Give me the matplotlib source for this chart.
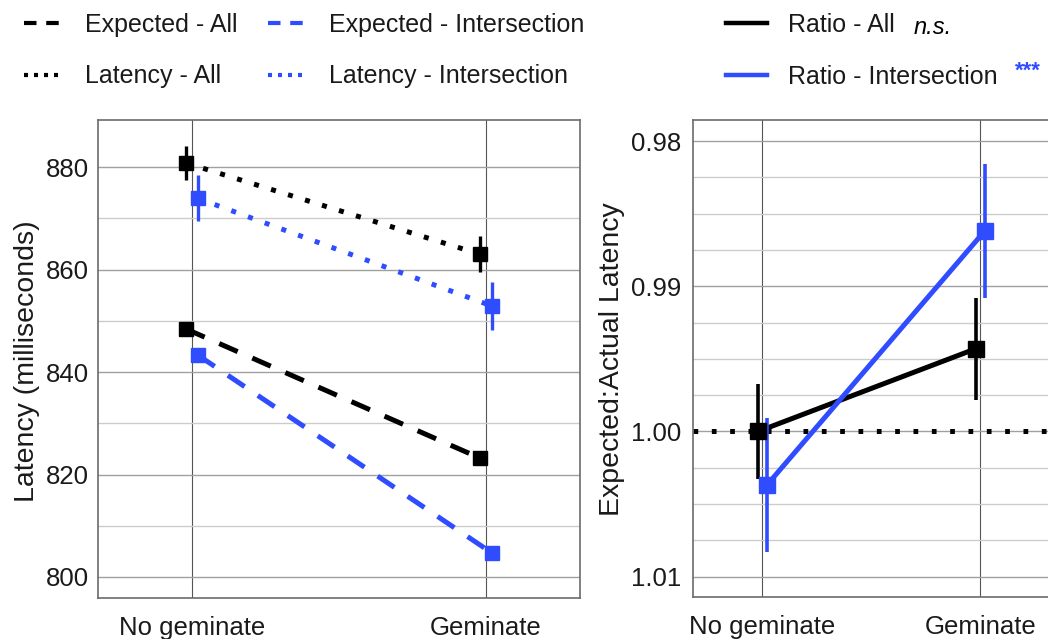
import matplotlib
matplotlib.use("Agg")
import matplotlib.pyplot as plt
from matplotlib.lines import Line2D
from matplotlib.ticker import MultipleLocator, FormatStrFormatter

plt.rcParams["font.family"] = ["Liberation Sans", "DejaVu Sans"]
plt.rcParams["lines.scale_dashes"] = False

# ---- data -------------------------------------------------------------
conditions = ["No geminate", "Geminate"]

latency_all = [880.8, 863.0]
latency_all_err = [3.3, 3.5]
latency_inter = [873.9, 852.9]
latency_inter_err = [4.5, 4.6]

expected_all = [848.4, 823.2]
expected_all_err = [0.4, 0.4]
expected_inter = [843.3, 804.7]
expected_inter_err = [1.2, 0.5]

ratio_all = [1.0000, 0.9943]
ratio_all_err = [0.0033, 0.0035]
ratio_inter = [1.0037, 0.9862]
ratio_inter_err = [0.0046, 0.0046]

ratio_reference = 1.0

latency_ticks = [800, 820, 840, 860, 880]
ratio_ticks = [0.98, 0.99, 1.00, 1.01]

# ---- style ------------------------------------------------------------
BLACK = "#000000"
BLUE = "#2F4CFF"
TEXT = "#1a1a1a"
DODGE = 0.02

DOT_LEFT = (0, (3.6, 9.2))
DASH_LEFT = (0, (14.5, 11.5))
DOT_RIGHT = (0, (3.4, 9.8))

W, H = 1048, 639
fig = plt.figure(figsize=(W / 100, H / 100), dpi=100)


def px_axes(x0, y0, x1, y1):
    """Axes placed by pixel box (top-left origin)."""
    return fig.add_axes([x0 / W, 1 - y1 / H, (x1 - x0) / W, (y1 - y0) / H])


def style_axes(ax):
    for s in ax.spines.values():
        s.set_color("#6b6b6b")
        s.set_linewidth(1.2)
    ax.set_axisbelow(True)
    ax.grid(which="major", axis="y", color="#a0a0a0", lw=1.0)
    ax.grid(which="minor", axis="y", color="#cccccc", lw=1.0)
    ax.grid(which="major", axis="x", color="#555555", lw=0.8)
    ax.tick_params(which="both", length=0, colors=TEXT)
    ax.tick_params(axis="x", labelsize=18.5, pad=13)
    ax.set_xlim(-0.32, 1.32)
    ax.set_xticks(range(len(conditions)))
    ax.set_xticklabels(conditions)


x = list(range(len(conditions)))
x_black = [v - DODGE for v in x]
x_blue = [v + DODGE for v in x]

# ---- left: latencies --------------------------------------------------
ax1 = px_axes(98, 120, 580, 598)
style_axes(ax1)
ax1.set_ylim(795.9, 889.2)
ax1.set_yticks(latency_ticks)
ax1.yaxis.set_minor_locator(MultipleLocator(10))
ax1.tick_params(axis="y", labelsize=18.5, pad=6.5)

series_left = [
    (x_black, latency_all, latency_all_err, BLACK, DOT_LEFT),
    (x_black, expected_all, expected_all_err, BLACK, DASH_LEFT),
    (x_blue, latency_inter, latency_inter_err, BLUE, DOT_LEFT),
    (x_blue, expected_inter, expected_inter_err, BLUE, DASH_LEFT),
]
for xs, ys, es, col, ls in series_left:
    ax1.plot(xs, ys, color=col, lw=3.6, linestyle=ls,
             solid_capstyle="butt", dash_capstyle="butt", zorder=3)
    ax1.errorbar(xs, ys, yerr=es, fmt="s", color=col, ms=10,
                 elinewidth=2.4, capsize=0, zorder=4)

# ---- right: ratios ----------------------------------------------------
ax2 = px_axes(692.7, 120, 1050, 597)
style_axes(ax2)
ax2.set_ylim(1.0114, 0.97855)
ax2.set_yticks(ratio_ticks)
ax2.yaxis.set_minor_locator(MultipleLocator(0.0025))
ax2.yaxis.set_major_formatter(FormatStrFormatter("%.2f"))
ax2.tick_params(axis="y", labelsize=18.5, pad=8)

ax2.axhline(ratio_reference, color=BLACK, lw=3.6, linestyle=DOT_RIGHT, zorder=2)
for xs, ys, es, col in [(x_black, ratio_all, ratio_all_err, BLACK),
                        (x_blue, ratio_inter, ratio_inter_err, BLUE)]:
    ax2.plot(xs, ys, color=col, lw=3.6, zorder=3)
    ax2.errorbar(xs, ys, yerr=es, fmt="s", color=col, ms=12,
                 elinewidth=2.6, capsize=0, zorder=4)

# ---- axis titles ------------------------------------------------------
fig.text(27.5 / W, 1 - 361.5 / H, "Latency (milliseconds)", rotation=90,
         ha="center", va="center", fontsize=20.5, color=TEXT)
fig.text(612 / W, 1 - 359.5 / H, "Expected:Actual Latency", rotation=90,
         ha="center", va="center", fontsize=20.5, color=TEXT)

# ---- legends ----------------------------------------------------------
LEG_DASH = (0, (9.0, 7.0))
LEG_DOT = (0, (2.9, 4.3))
left_handles = [
    Line2D([], [], color=BLACK, lw=3.0, linestyle=LEG_DASH),
    Line2D([], [], color=BLACK, lw=3.0, linestyle=LEG_DOT),
    Line2D([], [], color=BLUE, lw=3.0, linestyle=LEG_DASH),
    Line2D([], [], color=BLUE, lw=3.0, linestyle=LEG_DOT),
]
left_labels = ["Expected - All", "Latency - All",
               "Expected - Intersection", "Latency - Intersection"]
fig.legend(left_handles, left_labels, ncol=2, loc="upper left",
           bbox_to_anchor=(24 / W, 1 - 13 / H), frameon=False, fontsize=18,
           handlelength=1.45, handletextpad=1.0, columnspacing=1.2,
           labelspacing=1.1, borderpad=0, borderaxespad=0,
           labelcolor=TEXT)

right_handles = [Line2D([], [], color=BLACK, lw=3.2),
                 Line2D([], [], color=BLUE, lw=3.2)]
fig.legend(right_handles, ["Ratio - All", "Ratio - Intersection"],
           loc="upper left", bbox_to_anchor=(726 / W, 1 - 13 / H),
           frameon=False, fontsize=18, handlelength=1.65, handletextpad=0.85,
           labelspacing=1.1, borderpad=0, borderaxespad=0, labelcolor=TEXT)

fig.text(914 / W, 1 - 27 / H, "n.s.", style="italic", fontsize=17,
         ha="left", va="center", color=BLACK)
fig.text(1015 / W, 1 - 71 / H, "***", fontsize=16, fontweight="bold",
         ha="left", va="center", color=BLUE)

fig.savefig("out.png", dpi=100)
